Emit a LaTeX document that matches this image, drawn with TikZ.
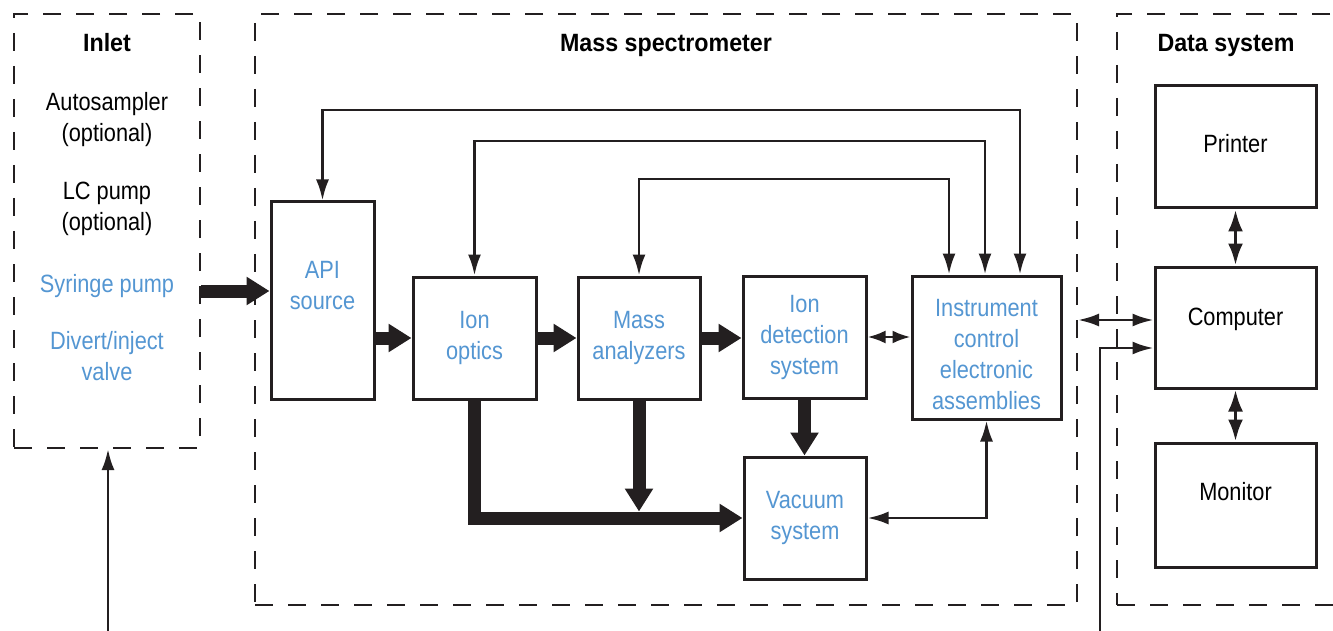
\documentclass[tikz,border=0pt]{standalone}
\usepackage{fontspec}
\setmainfont{Liberation Sans}[FakeStretch=0.87]
\newfontfamily\headfont{Liberation Sans}[FakeStretch=0.93]
\usetikzlibrary{arrows.meta,calc}
\definecolor{txtblue}{RGB}{84,150,210}
\definecolor{ink}{RGB}{35,31,32}
\begin{document}
\begin{tikzpicture}[x=1pt,y=-1pt,
  every node/.style={font=\fontsize{25}{31}\selectfont, inner sep=0pt},
  blk/.style={draw=ink, line width=3pt, fill=white, align=center},
  frm/.style={draw=ink, line width=2pt, dash pattern=on 18pt off 15pt},
  bl/.style={text=txtblue, align=center},
  ttl/.style={font=\headfont\bfseries\fontsize{25}{31}\selectfont, anchor=base},
  sarrow/.style={draw=ink, line width=2.8pt, -{Latex[length=21pt,width=13pt]}},
  sboth/.style={draw=ink, line width=2.8pt, {Latex[length=21pt,width=13pt]}-{Latex[length=21pt,width=13pt]}},
  sshort/.style={draw=ink, line width=2.8pt, {Latex[length=18pt,width=13pt]}-{Latex[length=18pt,width=13pt]}},
  dboth/.style={draw=ink, line width=3.8pt, {Latex[length=22pt,width=15pt]}-{Latex[length=22pt,width=15pt]}},
  barrow/.style={draw=ink, line width=13pt, line join=miter, -{Triangle[length=23pt,width=27pt]}},
]
\useasboundingbox (0,0) rectangle (1333,631);
\clip (0,0) rectangle (1333,631);

% frames
\node[frm, minimum width=186pt, minimum height=434pt] (inlet) at (107,231) {};
\node[frm, minimum width=822pt, minimum height=591pt] (ms) at (666,309.5) {};
\node[frm, minimum width=240pt, minimum height=591pt] (ds) at (1237,309.5) {};

% titles
\node[ttl] (tin) at (107,52) {Inlet};
\node[ttl] (tms) at (666,52) {Mass spectrometer};
\node[ttl] (tds) at (1226,52) {Data system};

% inlet contents
\node[align=center] (auto) at (107,120) {Autosampler\\(optional)};
\node[align=center] (lc) at (107,208.5) {LC pump\\(optional)};
\node[bl] (syr) at (107,285.7) {Syringe pump};
\node[bl] (div) at (107,356.5) {Divert/inject\\valve};

% mass spectrometer boxes
\node[blk, minimum width=103pt, minimum height=197pt,
      label={[bl, name=apitxt, yshift=14.5pt]center:API\\source}] (api) at (322.5,300.5) {};
\node[blk, text=txtblue, minimum width=123pt, minimum height=122pt] (io) at (474.5,338) {Ion\\optics};
\node[blk, text=txtblue, minimum width=122pt, minimum height=122pt] (ma) at (639,338) {Mass\\analyzers};
\node[blk, text=txtblue, minimum width=123pt, minimum height=122pt] (ids) at (804.5,337) {Ion\\detection\\system};
\node[blk, minimum width=149pt, minimum height=143pt,
      label={[bl, name=icetxt, yshift=-7.5pt]center:Instrument\\control\\electronic\\assemblies}] (ice) at (986.5,347.5) {};
\node[blk, text=txtblue, minimum width=122pt, minimum height=122pt] (vac) at (805,518) {Vacuum\\system};

% data system boxes
\node[blk, minimum width=161pt, minimum height=122pt,
      label={[name=prtxt, yshift=3.5pt]center:Printer}] (printer) at (1235.5,147) {};
\node[blk, minimum width=161pt, minimum height=121pt,
      label={[name=comptxt, yshift=8pt]center:Computer}] (comp) at (1235.5,327.5) {};
\node[blk, minimum width=161pt, minimum height=124pt,
      label={[name=montxt, yshift=13pt]center:Monitor}] (mon) at (1235.5,505) {};

% thick flow arrows
\coordinate (a1) at ($(api.west)+(0,-9.5)$);
\draw[barrow] (inlet.east |- a1) -- (a1);
\draw[barrow] (api.east |- io.west) -- (io.west);
\draw[barrow] (io.east) -- (ma.west);
\draw[barrow] (ma.east) -- (ma.east -| ids.west);
\draw[barrow] (ids.south) -- (ids.south |- vac.north);
\draw[barrow] (io.south) |- (vac.west);
\draw[barrow] (ma.south) -- ($(ma.south |- vac.west)+(0,-6.5)$);

% thin control arrows
\draw[sshort] (ids.east) -- (ids.east -| ice.west);
\draw[sboth] (vac.east) -| (ice.south);
\draw[sboth] (api.north) |- ($(ice.north)+(33.5,-164.5)$) -- ($(ice.north)+(33.5,0)$);
\draw[sboth] (io.north) |- ($(ice.north)+(-1.5,-133.5)$) -- ($(ice.north)+(-1.5,0)$);
\draw[sboth] (ma.north) |- ($(ice.north)+(-37.5,-95.5)$) -- ($(ice.north)+(-37.5,0)$);

% data system connections
\draw[dboth] (printer.south) -- (comp.north);
\draw[dboth] (comp.south) -- (mon.north);
\coordinate (c1) at ($(comp.west)+(0,-7.5)$);
\draw[sboth] (ms.east |- c1) -- (c1);
\coordinate (c2) at ($(comp.west)+(0,20.5)$);
\coordinate (b2) at (1100,635);
\draw[sarrow] (b2) |- (c2);
\coordinate (b1) at (108,635);
\draw[sarrow] (b1) -- (b1 |- inlet.south);
\end{tikzpicture}
\end{document}
